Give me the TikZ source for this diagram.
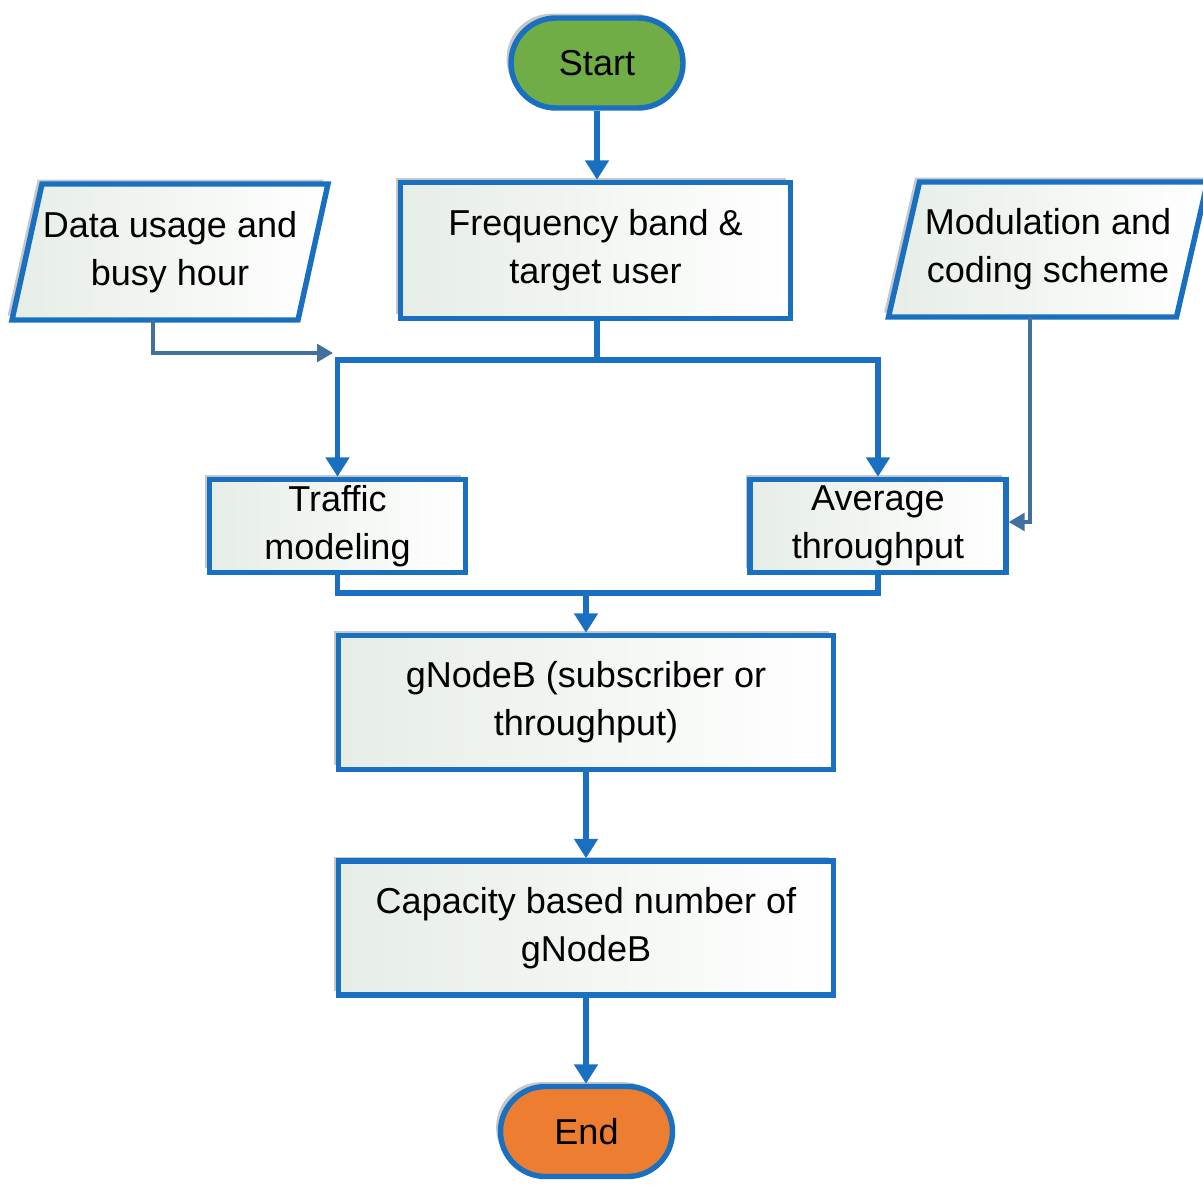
\documentclass[tikz,border=0pt]{standalone}
\usepackage{fontspec}
\setmainfont{Liberation Sans}
\usetikzlibrary{arrows.meta,shadows,backgrounds}
\definecolor{bord}{HTML}{1A70C0}
\definecolor{thinc}{HTML}{41719C}
\definecolor{startc}{HTML}{70AD47}
\definecolor{endc}{HTML}{ED7D31}
\definecolor{boxl}{HTML}{E6EDE6}
\tikzset{
 txt/.style={font=\fontsize{20.5}{27.5}\selectfont, align=center, text=black},
 shd/.style={general shadow={fill=black, opacity=0.22, shadow xshift=-2.5pt, shadow yshift=2.5pt}},
 procbox/.style={txt, draw=bord, line width=3.1pt, left color=boxl, right color=white, shd, inner sep=2pt},
 term/.style={txt, draw=bord, line width=3.1pt, shd, minimum width=3.44cm, minimum height=1.8cm, rounded corners=0.9cm},
 iobox/.style={txt, minimum width=5.72cm, minimum height=2.72cm, outer sep=0pt, inner sep=0pt},
 ioshape/.style={draw=bord, line width=3.1pt, left color=boxl, right color=white, shd, line join=miter},
 conn/.style={draw=bord, line width=3.1pt, line join=miter},
 arr/.style={-{Triangle[width=13pt,length=11pt]}},
 thinconn/.style={draw=thinc, line width=1.9pt, line join=miter, -{Triangle[width=10pt,length=9pt]}},
}
\begin{document}
\begin{tikzpicture}
\useasboundingbox (0,0) rectangle (24.06,-23.7);

% terminators
\node[term, fill=startc] (start) at (11.94,-1.26) {Start};
\node[term, fill=endc] (end) at (11.73,-22.63) {End};

% process boxes
\node[procbox, minimum width=7.8cm, minimum height=2.72cm] (freq) at (11.91,-5.01) {Frequency band \&\\target user};
\node[procbox, minimum width=5.12cm, minimum height=1.86cm] (traffic) at (6.75,-10.52) {Traffic\\modeling};
\node[procbox, minimum width=5.12cm, minimum height=1.86cm] (avg) at (17.56,-10.52) {Average\\throughput};
\node[procbox, minimum width=9.9cm, minimum height=2.68cm] (gnb) at (11.72,-14.05) {gNodeB (subscriber or\\throughput)};
\node[procbox, minimum width=9.9cm, minimum height=2.68cm] (cap) at (11.72,-18.56) {Capacity based number of\\gNodeB};

% input/output parallelograms
\node[iobox] (data) at (3.4,-5.04) {Data usage and\\busy hour};
\node[iobox, minimum width=5.76cm, minimum height=2.7cm] (mod) at (20.96,-4.99) {Modulation and\\coding scheme};
\begin{scope}[on background layer]
\path[ioshape] ([xshift=-0.3cm]data.south west) -- ([xshift=0.3cm]data.north west) -- ([xshift=0.3cm]data.north east) -- ([xshift=-0.3cm]data.south east) -- cycle;
\path[ioshape] ([xshift=-0.31cm]mod.south west) -- ([xshift=0.31cm]mod.north west) -- ([xshift=0.31cm]mod.north east) -- ([xshift=-0.31cm]mod.south east) -- cycle;
\end{scope}

% connector points
\coordinate (split) at (11.94,-7.2);
\coordinate (merge) at (11.72,-11.86);
\coordinate (dtap) at (3.06,-7.06);
\coordinate (dend) at (6.66,-7.06);
\coordinate (mtap) at (20.6,-10.44);

% connectors
\draw[conn, arr] (start.south) -- (start.south |- freq.north);
\draw[conn] (split |- freq.south) -- (split);
\draw[conn, arr] (split) -| (traffic.north);
\draw[conn, arr] (split) -| (avg.north);
\draw[thinconn] (data.south -| dtap) -- (dtap) -- (dend);
\draw[thinconn] (mod.south -| mtap) -- (mtap) -- (avg.east |- mtap);
\draw[conn] (traffic.south) |- (merge) -| (avg.south);
\draw[conn, arr] (merge) -- (gnb.north);
\draw[conn, arr] (gnb) -- (cap);
\draw[conn, arr] (cap.south) -- (cap.south |- end.north);
\end{tikzpicture}
\end{document}
